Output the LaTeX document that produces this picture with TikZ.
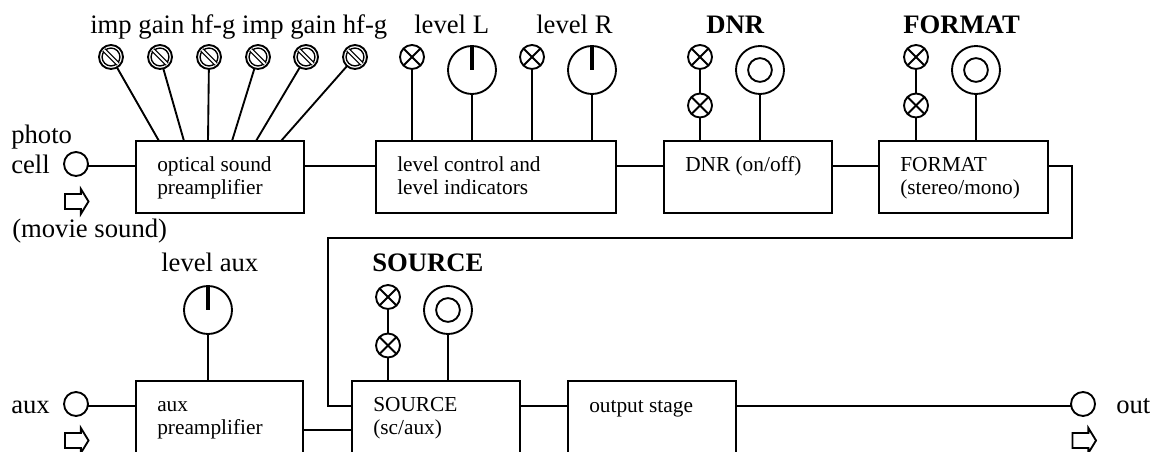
\documentclass[tikz,border=0pt]{standalone}
\usepackage{fontspec}
\setmainfont{Liberation Serif}
\usetikzlibrary{shapes.arrows}
\tikzset{
    wire/.style={line width=1.4pt},
    blockbox/.style={draw, wire, rectangle, anchor=north west, outer sep=0pt, minimum height=54pt},
    blocktext/.style={anchor=base west, inner sep=0pt, align=left, xshift=15.75pt, yshift=-23.25pt,
        font=\fontsize{16}{17.25}\selectfont},
    twolines/.style={yshift=-17.25pt},
    textlabel/.style={anchor=base west, inner sep=0pt, font=\fontsize{20}{24}\selectfont},
    boldlabel/.style={textlabel, font=\fontsize{20}{24}\selectfont\bfseries},
    jack/.style={draw, wire, circle, outer sep=0pt, inner sep=0pt, minimum size=18pt},
    flowarrow/.style={draw, wire, single arrow, outer sep=0pt, inner xsep=0pt, inner ysep=4.9pt, minimum height=17.6pt,
        minimum width=17pt, single arrow head extend=3.75pt, single arrow tip angle=117},
    lamp/.style={draw, wire, circle, outer sep=0pt, inner sep=0pt, minimum size=18pt, path picture={
        \draw[wire] (path picture bounding box.north west) -- (path picture bounding box.south east);
        \draw[wire] (path picture bounding box.north east) -- (path picture bounding box.south west);}},
    trimpot/.style={draw, wire, circle, outer sep=0pt, inner sep=0pt, minimum size=18pt, path picture={
        \draw[line width=1pt, shift={(path picture bounding box.center)}] (0,0) circle (6.7pt);
        \draw[line width=.9pt, double, double distance=1.5pt, shift={(path picture bounding box.center)}] (-7,-7) -- (7,7);}},
    levelmeter/.style={draw, wire, circle, outer sep=0pt, inner sep=0pt, minimum size=36pt, path picture={
        \draw[line width=3.4pt, shift={(path picture bounding box.center)}] (0,0) -- (0,-26);}},
    selector/.style={draw, wire, circle, outer sep=0pt, inner sep=0pt, minimum size=36pt, path picture={
        \draw[wire, shift={(path picture bounding box.center)}] (0,0) circle (8.9pt);}},
}
\begin{document}
\begin{tikzpicture}[x=.75pt, y=-.75pt]
    \useasboundingbox (0,0) rectangle (1154,452);
    \clip (0,0) rectangle (1154,452);

    % Signal heights
    \coordinate (rowtop) at (0,165.7);
    \coordinate (rowloop) at (0,238);
    \coordinate (rowbottom) at (0,405.7);
    \coordinate (rowmix) at (0,430);

    % Blocks, upper row
    \node[blockbox, minimum width=126pt] (optsound) at (136,141) {};
    \node[blockbox, minimum width=180pt] (levelctl) at (376,141) {};
    \node[blockbox, minimum width=126pt] (dnr) at (664,141) {};
    \node[blockbox, minimum width=126.75pt] (format) at (879,141) {};

    % Blocks, lower row
    \node[blockbox, minimum width=125.25pt, minimum height=57pt] (auxpre) at (136,381) {};
    \node[blockbox, minimum width=126pt, minimum height=57pt] (source) at (352,381) {};
    \node[blockbox, minimum width=126pt, minimum height=57pt] (output) at (568,381) {};

    % Block texts
    \node[blocktext, twolines] (optsoundtext) at (optsound.north west) {optical sound\\preamplifier};
    \node[blocktext, twolines] (levelctltext) at (levelctl.north west) {level control and\\level indicators};
    \node[blocktext] (dnrtext) at (dnr.north west) {DNR (on/off)};
    \node[blocktext, twolines] (formattext) at (format.north west) {FORMAT\\(stereo/mono)};
    \node[blocktext, twolines] (auxpretext) at (auxpre.north west) {aux\\preamplifier};
    \node[blocktext, twolines] (sourcetext) at (source.north west) {SOURCE\\(sc/aux)};
    \node[blocktext] (outputtext) at (output.north west) {output stage};

    % Inputs and output
    \node[jack] (photocell) at (76,164) {};
    \node[jack] (auxin) at (76,404) {};
    \node[jack] (out) at (1083,404) {};
    \node[flowarrow] (flowcell) at (74.5,201.5) {};
    \node[flowarrow] (flowaux) at (74.5,440.5) {};
    \node[flowarrow] (flowout) at (1082,440.5) {};

    % Trimmers
    \foreach \x/\t [count=\i] in {111/159,160/184,209/208,258/232,306/256,355/281} {
        \node[trimpot] (trim\i) at (\x,57) {};
        \coordinate (trimtap\i) at (\t,141);
        \draw[wire] (trim\i) -- (trimtap\i);
    }

    % Level controls
    \node[lamp] (lampL) at (412,57) {};
    \node[levelmeter] (meterL) at (472,70) {};
    \node[lamp] (lampR) at (532,57) {};
    \node[levelmeter] (meterR) at (592,70) {};
    \node[levelmeter] (meteraux) at (208,310) {};
    \draw[wire] (lampL) -- (lampL |- levelctl.north);
    \draw[wire] (meterL) -- (meterL |- levelctl.north);
    \draw[wire] (lampR) -- (lampR |- levelctl.north);
    \draw[wire] (meterR) -- (meterR |- levelctl.north);
    \draw[wire] (meteraux) -- (meteraux |- auxpre.north);

    % Switches with two lamps
    \foreach \name/\x/\y/\blk in {dnr/700/57/dnr, fmt/916/57/format, src/388/297/source} {
        \node[lamp] (\name a) at (\x,\y) {};
        \node[lamp] (\name b) at (\x,\y+48.5) {};
        \node[selector] (\name sw) at (\x+60,\y+13) {};
        \draw[wire] (\name a) -- (\name b);
        \draw[wire] (\name b) -- (\name b |- \blk.north);
        \draw[wire] (\name sw) -- (\name sw |- \blk.north);
    }

    % Signal path
    \draw[wire] (photocell.east |- rowtop) -- (optsound.west |- rowtop);
    \draw[wire] (optsound.east |- rowtop) -- (levelctl.west |- rowtop);
    \draw[wire] (levelctl.east |- rowtop) -- (dnr.west |- rowtop);
    \draw[wire] (dnr.east |- rowtop) -- (format.west |- rowtop);
    \coordinate (loopright) at (1072,165.7);
    \coordinate (loopleft) at (328,238);
    \draw[wire] (format.east |- rowtop) -- (loopright) -- (loopright |- rowloop) -- (loopleft) -- (loopleft |- rowbottom) -- (source.west |- rowbottom);
    \draw[wire] (auxin.east |- rowbottom) -- (auxpre.west |- rowbottom);
    \draw[wire] (auxpre.east |- rowmix) -- (source.west |- rowmix);
    \draw[wire] (source.east |- rowbottom) -- (output.west |- rowbottom);
    \draw[wire] (output.east |- rowbottom) -- (out.west |- rowbottom);

    % Labels
    \node[textlabel] (trimlabel) at (90,34) {imp gain hf-g imp gain hf-g};
    \node[textlabel] (levelLlabel) at (414,34) {level L};
    \node[textlabel] (levelRlabel) at (536,34) {level R};
    \node[boldlabel] (dnrlabel) at (706,34) {DNR};
    \node[boldlabel] (formatlabel) at (903,34) {FORMAT};
    \node[boldlabel] (sourcelabel) at (372,272) {SOURCE};
    \node[textlabel] (levelauxlabel) at (161,272) {level aux};
    \node[textlabel] (photolabel) at (11,144) {photo};
    \node[textlabel] (celllabel) at (11,174) {cell};
    \node[textlabel] (movielabel) at (12,238) {(movie sound)};
    \node[textlabel] (auxlabel) at (11,414) {aux};
    \node[textlabel] (outlabel) at (1116,414) {out};

\end{tikzpicture}
\end{document}
